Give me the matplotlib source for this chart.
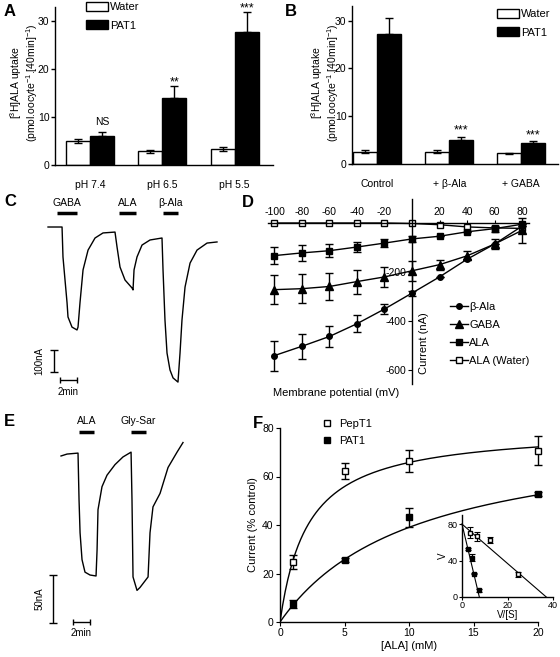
import numpy as np
import matplotlib
matplotlib.use("Agg")
import matplotlib.pyplot as plt
from matplotlib.lines import Line2D

plt.rcParams['font.family'] = ['Liberation Sans', 'DejaVu Sans']
plt.rcParams['mathtext.fontset'] = 'custom'
plt.rcParams['mathtext.rm'] = 'Liberation Sans'
plt.rcParams['mathtext.it'] = 'Liberation Sans'
plt.rcParams['axes.linewidth'] = 1.0
plt.rcParams['axes.unicode_minus'] = False

W, H = 560, 657

# ---- data ----
# A: [3H]ALA uptake at different pH
a_cats = ['pH 7.4', 'pH 6.5', 'pH 5.5']
a_water = [5.0, 2.9, 3.3]
a_water_err = [0.5, 0.3, 0.4]
a_pat1 = [6.1, 13.9, 27.8]
a_pat1_err = [0.7, 2.6, 4.1]

# B: inhibition
b_cats = ['Control', '+ \u03b2-Ala', '+ GABA']
b_water = [2.6, 2.6, 2.2]
b_water_err = [0.3, 0.3, 0.2]
b_pat1 = [27.1, 5.0, 4.3]
b_pat1_err = [3.4, 0.7, 0.5]

# C: current trace (min, nA)
c_t = [0, 1.65, 1.76, 2.0, 2.24, 2.35, 2.82, 3.41, 3.53, 3.76, 4.12, 4.71, 5.53, 6.47, 7.88,
       8.12, 8.47, 9.06, 9.88, 10.0, 10.12, 10.47, 11.06, 12.0, 13.41,
       13.53, 13.76, 14.0, 14.35, 14.71, 15.29, 15.53, 15.76, 16.12, 16.71, 17.53, 18.71, 19.88]
c_i = [0, 0, -136, -241, -345, -409, -455, -468, -455, -345, -195, -105, -50, -27, -23,
       -91, -182, -241, -277, -286, -195, -136, -82, -59, -50,
       -195, -423, -573, -650, -686, -705, -573, -423, -273, -164, -105, -73, -68]
c_labels = ['GABA', 'ALA', '\u03b2-Ala']
c_on = [1.06, 8.35, 13.53]
c_off = [3.41, 10.35, 15.29]

# D: I-V relationship
d_v = [-100, -80, -60, -40, -20, 0, 20, 40, 60, 80]
d_bala = [-541, -503, -463, -411, -351, -286, -220, -148, -86, -13]
d_bala_err = [61, 52, 44, 35, 20, 10, 0, 0, 0, 0]
d_gaba = [-272, -268, -259, -239, -220, -195, -170, -134, -86, -30]
d_gaba_err = [60, 58, 55, 49, 40, 40, 20, 18, 22, 50]
d_ala = [-133, -122, -113, -98, -82, -65, -54, -36, -23, -5]
d_ala_err = [35, 32, 27, 22, 15, 12, 0, 0, 12, 0]
d_water = [0, 0, 0, 0, 0, -2, -7, -16, -20, -22]

# E: current trace (min, nA)
e_t = [0, 0.71, 2.0, 2.12, 2.24, 2.47, 2.82, 3.41, 4.12, 4.24, 4.35, 4.82, 5.41, 6.35, 7.29, 8.24,
       8.35, 8.47, 8.94, 9.29, 10.24, 10.47, 10.82, 11.65, 12.59, 13.65, 14.35]
e_i = [-1, 1, 2, -47, -81, -109, -122, -125, -126, -99, -57, -33, -21, -10, -2, 3,
       -47, -127, -141, -138, -127, -81, -54, -40, -13, 3, 13]
e_labels = ['ALA', 'Gly-Sar']
e_on = [2.12, 8.24]
e_off = [3.88, 10.0]

# F: concentration dependence
f_conc = [1, 5, 10, 20]
f_pept1 = [24.8, 62.3, 66.5, 70.6]
f_pept1_err = [2.8, 3.2, 4.6, 5.9]
f_pat1 = [7.3, 25.5, 43.2, 52.8]
f_pat1_err = [1.6, 0.8, 4.0, 0.8]
vmax = 80.0
km_pept1 = 2.16
km_pat1 = 10.5

uptake_label = '[$^{3}$H]ALA uptake\n(pmol.oocyte$^{-1}$.[40min]$^{-1}$)'


def px_axes(x0, y0, x1, y1):
    return fig.add_axes([x0 / W, 1 - y1 / H, (x1 - x0) / W, (y1 - y0) / H])


def fig_text(x, y, s, **kw):
    fig.text(x / W, 1 - y / H, s, **kw)


fig = plt.figure(figsize=(5.6, 6.57), dpi=100)

tick_fs = 7.5
lab_fs = 8


def bar_panel(ax, cats, water, water_err, pat1, pat1_err, stars, star_off, xlim):
    x = np.arange(len(cats))
    w = 0.333
    ax.bar(x - w / 2, water, w, color='white', edgecolor='black', linewidth=1.0,
           yerr=water_err, error_kw=dict(capsize=3, elinewidth=1, capthick=1), label='Water')
    ax.bar(x + w / 2, pat1, w, color='black', edgecolor='black', linewidth=1.0,
           yerr=[np.zeros(len(pat1)), pat1_err], error_kw=dict(capsize=3, elinewidth=1, capthick=1),
           label='PAT1')
    for xi, v, e, s in zip(x, pat1, pat1_err, stars):
        if s == 'NS':
            ax.text(xi + w / 2, v + e + 1.5, s, ha='center', va='baseline', fontsize=7.5)
        elif s:
            ax.text(xi + w / 2, v + e + star_off, s, ha='center', va='baseline', fontsize=9)
    ax.set_xlim(*xlim)
    ax.set_ylim(0, 33)
    ax.set_yticks([0, 10, 20, 30])
    ax.set_xticks(x)
    ax.set_xticklabels(cats)
    ax.spines['top'].set_visible(False)
    ax.spines['right'].set_visible(False)
    ax.tick_params(axis='x', length=0, pad=11, labelsize=tick_fs)
    ax.tick_params(axis='y', length=3, width=1, pad=1.0, labelsize=tick_fs)


leg_kw = dict(frameon=False, fontsize=lab_fs, handlelength=2.0, handleheight=0.8,
              labelspacing=0.75, handletextpad=0.15, borderaxespad=0, borderpad=0)

# ---- A ----
axA = px_axes(55, 6.6, 273, 165)
bar_panel(axA, a_cats, a_water, a_water_err, a_pat1, a_pat1_err, ['NS', '**', '***'], 0.0,
          (-0.486, 2.53))
axA.legend(loc='upper left', bbox_to_anchor=(86 / W, 1 - 2 / H), bbox_transform=fig.transFigure,
           **leg_kw)
fig_text(24, 83, uptake_label, rotation=90, ha='center', va='center', ma='center',
         fontsize=7.5, linespacing=1.05)
fig_text(4, 12, 'A', fontsize=12, fontweight='bold', va='center')

# ---- B ----
axB = px_axes(352, 6.3, 558, 164)
bar_panel(axB, b_cats, b_water, b_water_err, b_pat1, b_pat1_err, ['', '***', '***'], 0.6,
          (-0.35, 2.51))
axB.legend(loc='upper left', bbox_to_anchor=(497 / W, 1 - 9 / H), bbox_transform=fig.transFigure,
           **leg_kw)
fig_text(325, 83, uptake_label, rotation=90, ha='center', va='center', ma='center',
         fontsize=7.5, linespacing=1.05)
fig_text(285, 12, 'B', fontsize=12, fontweight='bold', va='center')


def trace_panel(ax, t, i, labels, on, off, bar_y, lab_y, sb_x, sb_y0, sb_y1, sb_h_y, sb_h_x0,
                sb_h_x1, sb_lab, sb_lab_x, t_lab_y):
    ax.plot(t, i, color='black', lw=1.0)
    for lab, a, b in zip(labels, on, off):
        ax.plot([a, b], [bar_y, bar_y], color='black', lw=2.5, solid_capstyle='butt')
        ax.text((a + b) / 2, lab_y, lab, ha='center', va='center', fontsize=7.5)
    # scale bars
    ax.errorbar([sb_x], [(sb_y0 + sb_y1) / 2], yerr=[(sb_y0 - sb_y1) / 2], color='black',
                capsize=3, elinewidth=1, capthick=1, fmt='none')
    ax.errorbar([(sb_h_x0 + sb_h_x1) / 2], [sb_h_y], xerr=[(sb_h_x1 - sb_h_x0) / 2], color='black',
                capsize=2, elinewidth=1, capthick=1, fmt='none')
    ax.text(sb_lab_x, (sb_y0 + sb_y1) / 2, sb_lab, rotation=90, ha='center', va='center',
            fontsize=7)
    ax.text((sb_h_x0 + sb_h_x1) / 2, t_lab_y, '2min', ha='center', va='center', fontsize=7)
    ax.axis('off')


# ---- C ----
axC = px_axes(30, 195, 230, 400)
axC.set_xlim(-2.12, 21.41)
axC.set_ylim(-786.4, 145.5)
trace_panel(axC, c_t, c_i, c_labels, c_on, c_off, 64, 109, 0.71, -559, -659, -695, 1.41, 3.41,
            '100nA', -1.0, -750)
fig_text(4, 202, 'C', fontsize=12, fontweight='bold', va='center')

# ---- E ----
axE = px_axes(30, 405, 230, 645)
axE.set_xlim(-3.65, 19.88)
axE.set_ylim(-197.9, 52.1)
trace_panel(axE, e_t, e_i, e_labels, e_on, e_off, 24, 35, -0.94, -125, -175, -174, 1.41, 3.41,
            '50nA', -2.5, -185)
fig_text(4, 422, 'E', fontsize=12, fontweight='bold', va='center')

# ---- D ----
axD = px_axes(267.6, 198.5, 528.9, 383.5)
axD.set_xlim(-105, 85)
axD.set_ylim(-655, 100)
ekw = dict(capsize=3, elinewidth=1, capthick=1, color='black', lw=1.0, clip_on=False)
axD.errorbar(d_v, d_bala, yerr=d_bala_err, marker='o', ms=4, mfc='black', **ekw)
axD.errorbar(d_v, d_gaba, yerr=d_gaba_err, marker='^', ms=5.5, mfc='black', **ekw)
axD.errorbar(d_v, d_ala, yerr=d_ala_err, marker='s', ms=4, mfc='black', **ekw)
axD.plot(d_v, d_water, marker='s', ms=4, mfc='white', mec='black', color='black', lw=1.0,
         clip_on=False)
axD.spines['left'].set_position(('data', 0))
axD.spines['top'].set_position(('data', 0))
axD.spines['right'].set_visible(False)
axD.spines['bottom'].set_visible(False)
axD.xaxis.set_ticks_position('top')
axD.set_xticks([-100, -80, -60, -40, -20, 20, 40, 60, 80])
axD.set_yticks([-600, -400, -200])
axD.tick_params(axis='x', length=2, pad=2, labelsize=tick_fs)
axD.tick_params(axis='y', length=3, pad=1, labelsize=tick_fs)
axD.text(9, -490, 'Current (nA)', rotation=90, ha='center', va='center', fontsize=lab_fs)
fig_text(336, 393, 'Membrane potential (mV)', ha='center', va='center', fontsize=lab_fs)
d_handles = [
    Line2D([], [], color='black', marker='o', ms=4, mfc='black', lw=1),
    Line2D([], [], color='black', marker='^', ms=5.5, mfc='black', lw=1),
    Line2D([], [], color='black', marker='s', ms=4, mfc='black', lw=1),
    Line2D([], [], color='black', marker='s', ms=4, mfc='white', lw=1),
]
axD.legend(d_handles, ['\u03b2-Ala', 'GABA', 'ALA', 'ALA (Water)'], loc='upper left',
           bbox_to_anchor=(450 / W, 1 - 302 / H), bbox_transform=fig.transFigure, frameon=False,
           fontsize=lab_fs, handlelength=1.6, labelspacing=0.72, handletextpad=0.15,
           borderaxespad=0, borderpad=0)
fig_text(242, 203, 'D', fontsize=12, fontweight='bold', va='center')

# ---- F ----
axF = px_axes(280, 428, 538, 622)
axF.set_xlim(0, 20)
axF.set_ylim(0, 80)
s = np.linspace(0, 20, 200)
axF.plot(s, vmax * s / (km_pept1 + s), color='black', lw=1.0)
axF.plot(s, vmax * s / (km_pat1 + s), color='black', lw=1.0)
axF.errorbar(f_conc, f_pept1, yerr=f_pept1_err, fmt='s', ms=5, mfc='white', mec='black',
             ecolor='black', capsize=3, elinewidth=1, capthick=1, clip_on=False, label='PepT1')
axF.errorbar(f_conc, f_pat1, yerr=f_pat1_err, fmt='s', ms=5, mfc='black', mec='black',
             ecolor='black', capsize=3, elinewidth=1, capthick=1, clip_on=False, label='PAT1')
axF.spines['top'].set_visible(False)
axF.spines['right'].set_visible(False)
axF.set_xticks([0, 5, 10, 15, 20])
axF.set_yticks([0, 20, 40, 60, 80])
axF.tick_params(length=3, pad=1.5, labelsize=tick_fs)
axF.set_xlabel('[ALA] (mM)', fontsize=lab_fs, labelpad=2)
axF.set_ylabel('Current (% control)', fontsize=lab_fs, labelpad=3)
f_handles = [Line2D([], [], ls='none', marker='s', ms=5, mfc='white', mec='black'),
             Line2D([], [], ls='none', marker='s', ms=5, mfc='black', mec='black')]
axF.legend(f_handles, ['PepT1', 'PAT1'], loc='upper left',
           bbox_to_anchor=(320 / W, 1 - 419 / H), bbox_transform=fig.transFigure, frameon=False,
           fontsize=lab_fs, handlelength=1.2, labelspacing=0.6, handletextpad=0.5,
           borderaxespad=0, borderpad=0)
fig_text(253, 424, 'F', fontsize=12, fontweight='bold', va='center')

# inset: Eadie-Hofstee
axI = px_axes(462, 515, 553, 597)
axI.set_xlim(0, 40)
axI.set_ylim(0, 90)
vs_pept1 = np.array(f_pept1) / np.array(f_conc)
vs_pat1 = np.array(f_pat1) / np.array(f_conc)
axI.plot([0, vmax / km_pept1], [vmax, 0], color='black', lw=0.8, clip_on=False)
axI.plot([0, vmax / km_pat1], [vmax, 0], color='black', lw=0.8, clip_on=False)
axI.errorbar(vs_pept1, f_pept1, yerr=f_pept1_err, fmt='s', ms=3.5, mfc='white', mec='black',
             ecolor='black', capsize=2, elinewidth=0.8, capthick=0.8, clip_on=False)
axI.errorbar(vs_pat1, f_pat1, yerr=f_pat1_err, fmt='s', ms=3.2, mfc='black', mec='black',
             ecolor='black', capsize=2, elinewidth=0.8, capthick=0.8, clip_on=False)
axI.spines['top'].set_visible(False)
axI.spines['right'].set_visible(False)
axI.set_xticks([0, 20, 40])
axI.set_yticks([0, 40, 80])
axI.tick_params(length=2, pad=1, labelsize=6.5)
axI.set_xlabel('V/[S]', fontsize=7, labelpad=0)
axI.set_ylabel('V', fontsize=7, labelpad=0)

fig.savefig('out.png', dpi=100)
